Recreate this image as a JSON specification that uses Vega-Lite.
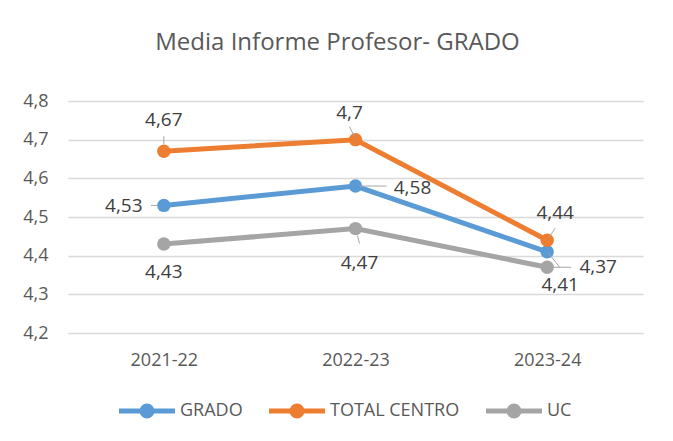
{
  "$schema": "https://vega.github.io/schema/vega-lite/v6.json",
  "width": 575,
  "height": 232,
  "autosize": {"type": "none"},
  "padding": {"left": 68, "top": 101, "right": 30, "bottom": 108},
  "background": "white",
  "title": {
    "text": "Media Informe Profesor- GRADO",
    "font": "Open Sans",
    "fontSize": 24,
    "fontWeight": "normal",
    "color": "#595959",
    "anchor": "middle",
    "dx": -18,
    "offset": 37
  },
  "config": {
    "view": {"stroke": null},
    "font": "Open Sans"
  },
  "data": {
    "values": [
      {"year": "2021-22", "series": "GRADO", "value": 4.53},
      {"year": "2022-23", "series": "GRADO", "value": 4.58},
      {"year": "2023-24", "series": "GRADO", "value": 4.41},
      {"year": "2021-22", "series": "TOTAL CENTRO", "value": 4.67},
      {"year": "2022-23", "series": "TOTAL CENTRO", "value": 4.70},
      {"year": "2023-24", "series": "TOTAL CENTRO", "value": 4.44},
      {"year": "2021-22", "series": "UC", "value": 4.43},
      {"year": "2022-23", "series": "UC", "value": 4.47},
      {"year": "2023-24", "series": "UC", "value": 4.37}
    ]
  },
  "transform": [
    {"calculate": "replace(format(datum.value, '.2~f'), '.', ',')", "as": "label"}
  ],
  "encoding": {
    "x": {
      "field": "year",
      "type": "ordinal",
      "scale": {"type": "point", "padding": 0.5},
      "axis": {
        "title": null,
        "labelAngle": 0,
        "labelFont": "Open Sans",
        "labelFontSize": 18,
        "labelColor": "#595959",
        "ticks": false,
        "domain": false,
        "labelPadding": 18,
        "grid": false
      }
    },
    "y": {
      "field": "value",
      "type": "quantitative",
      "scale": {"domain": [4.2, 4.8], "nice": false, "zero": false},
      "axis": {
        "title": null,
        "values": [4.2, 4.3, 4.4, 4.5, 4.6, 4.7, 4.8],
        "labelExpr": "replace(format(datum.value, '.1f'), '.', ',')",
        "labelFont": "Open Sans",
        "labelFontSize": 18,
        "labelColor": "#595959",
        "ticks": false,
        "domain": false,
        "labelPadding": 20,
        "gridColor": "#D9D9D9",
        "gridWidth": 1.5
      }
    }
  },
  "layer": [
    {
      "mark": {"type": "line", "strokeWidth": 5},
      "encoding": {
        "color": {
          "field": "series",
          "type": "nominal",
          "scale": {"domain": ["GRADO", "TOTAL CENTRO", "UC"], "range": ["#5B9BD5", "#ED7D31", "#A5A5A5"]},
          "legend": {
            "title": null,
            "orient": "none",
            "direction": "horizontal",
            "legendX": 70,
            "legendY": 301,
            "symbolType": "M-5.6,0L5.6,0M-1,0A1,1 0 1,0 1,0A1,1 0 1,0 -1,0Z",
            "symbolSize": 100,
            "symbolStrokeWidth": 5,
            "labelOffset": 24,
            "columnPadding": 16,
            "labelFont": "Open Sans",
            "labelFontSize": 18,
            "labelColor": "#595959",
            "encode": {
              "symbols": {
                "update": {
                  "fill": {"scale": "color", "field": "value"},
                  "stroke": {"scale": "color", "field": "value"},
                  "opacity": {"value": 1}
                }
              }
            }
          }
        }
      }
    },
    {
      "mark": {"type": "point", "filled": true, "size": 180, "opacity": 1},
      "encoding": {
        "color": {"field": "series", "type": "nominal", "legend": null}
      }
    },
    {
      "transform": [{"filter": "datum.series == 'TOTAL CENTRO' && datum.year == '2021-22'"}],
      "mark": {"type": "rule", "color": "#A6A6A6", "strokeWidth": 1, "yOffset": -7, "y2Offset": -15},
      "encoding": {"x2": {"field": "year"}, "y2": {"field": "value"}}
    },
    {
      "transform": [{"filter": "datum.series == 'GRADO' && datum.year == '2021-22'"}],
      "mark": {"type": "rule", "color": "#A6A6A6", "strokeWidth": 1, "xOffset": -6, "x2Offset": -13},
      "encoding": {"x2": {"field": "year"}, "y2": {"field": "value"}}
    },
    {
      "transform": [{"filter": "datum.series == 'TOTAL CENTRO' && datum.year == '2022-23'"}],
      "mark": {"type": "rule", "color": "#A6A6A6", "strokeWidth": 1, "xOffset": -1, "yOffset": -3, "x2Offset": -6, "y2Offset": -13},
      "encoding": {"x2": {"field": "year"}, "y2": {"field": "value"}}
    },
    {
      "transform": [{"filter": "datum.series == 'GRADO' && datum.year == '2022-23'"}],
      "mark": {"type": "rule", "color": "#A6A6A6", "strokeWidth": 1, "xOffset": 4, "x2Offset": 31},
      "encoding": {"x2": {"field": "year"}, "y2": {"field": "value"}}
    },
    {
      "transform": [{"filter": "datum.series == 'UC' && datum.year == '2022-23'"}],
      "mark": {"type": "rule", "color": "#A6A6A6", "strokeWidth": 1, "xOffset": 2, "yOffset": 7, "x2Offset": 4, "y2Offset": 15},
      "encoding": {"x2": {"field": "year"}, "y2": {"field": "value"}}
    },
    {
      "transform": [{"filter": "datum.series == 'TOTAL CENTRO' && datum.year == '2023-24'"}],
      "mark": {"type": "rule", "color": "#A6A6A6", "strokeWidth": 1, "xOffset": 2, "yOffset": -3, "x2Offset": 8, "y2Offset": -12},
      "encoding": {"x2": {"field": "year"}, "y2": {"field": "value"}}
    },
    {
      "transform": [{"filter": "datum.series == 'GRADO' && datum.year == '2023-24'"}],
      "mark": {"type": "rule", "color": "#A6A6A6", "strokeWidth": 1, "xOffset": 1, "yOffset": 1, "x2Offset": 13, "y2Offset": 16},
      "encoding": {"x2": {"field": "year"}, "y2": {"field": "value"}}
    },
    {
      "transform": [{"filter": "datum.series == 'UC' && datum.year == '2023-24'"}],
      "mark": {"type": "rule", "color": "#A6A6A6", "strokeWidth": 1, "xOffset": 6, "x2Offset": 24},
      "encoding": {"x2": {"field": "year"}, "y2": {"field": "value"}}
    },
    {
      "transform": [{"filter": "datum.series == 'TOTAL CENTRO' && datum.year == '2021-22'"}],
      "mark": {"type": "text", "font": "Open Sans", "fontSize": 19, "color": "#404040", "align": "center", "baseline": "middle", "dx": 0, "dy": -31},
      "encoding": {"text": {"field": "label"}}
    },
    {
      "transform": [{"filter": "datum.series == 'TOTAL CENTRO' && datum.year == '2022-23'"}],
      "mark": {"type": "text", "font": "Open Sans", "fontSize": 19, "color": "#404040", "align": "center", "baseline": "middle", "dx": -6, "dy": -27},
      "encoding": {"text": {"field": "label"}}
    },
    {
      "transform": [{"filter": "datum.series == 'TOTAL CENTRO' && datum.year == '2023-24'"}],
      "mark": {"type": "text", "font": "Open Sans", "fontSize": 19, "color": "#404040", "align": "center", "baseline": "middle", "dx": 8, "dy": -27},
      "encoding": {"text": {"field": "label"}}
    },
    {
      "transform": [{"filter": "datum.series == 'GRADO' && datum.year == '2021-22'"}],
      "mark": {"type": "text", "font": "Open Sans", "fontSize": 19, "color": "#404040", "align": "center", "baseline": "middle", "dx": -40, "dy": 1},
      "encoding": {"text": {"field": "label"}}
    },
    {
      "transform": [{"filter": "datum.series == 'GRADO' && datum.year == '2022-23'"}],
      "mark": {"type": "text", "font": "Open Sans", "fontSize": 19, "color": "#404040", "align": "center", "baseline": "middle", "dx": 57, "dy": 2},
      "encoding": {"text": {"field": "label"}}
    },
    {
      "transform": [{"filter": "datum.series == 'GRADO' && datum.year == '2023-24'"}],
      "mark": {"type": "text", "font": "Open Sans", "fontSize": 19, "color": "#404040", "align": "center", "baseline": "middle", "dx": 13, "dy": 33},
      "encoding": {"text": {"field": "label"}}
    },
    {
      "transform": [{"filter": "datum.series == 'UC' && datum.year == '2021-22'"}],
      "mark": {"type": "text", "font": "Open Sans", "fontSize": 19, "color": "#404040", "align": "center", "baseline": "middle", "dx": 0, "dy": 28},
      "encoding": {"text": {"field": "label"}}
    },
    {
      "transform": [{"filter": "datum.series == 'UC' && datum.year == '2022-23'"}],
      "mark": {"type": "text", "font": "Open Sans", "fontSize": 19, "color": "#404040", "align": "center", "baseline": "middle", "dx": 4, "dy": 34},
      "encoding": {"text": {"field": "label"}}
    },
    {
      "transform": [{"filter": "datum.series == 'UC' && datum.year == '2023-24'"}],
      "mark": {"type": "text", "font": "Open Sans", "fontSize": 19, "color": "#404040", "align": "center", "baseline": "middle", "dx": 51, "dy": 0},
      "encoding": {"text": {"field": "label"}}
    }
  ]
}
